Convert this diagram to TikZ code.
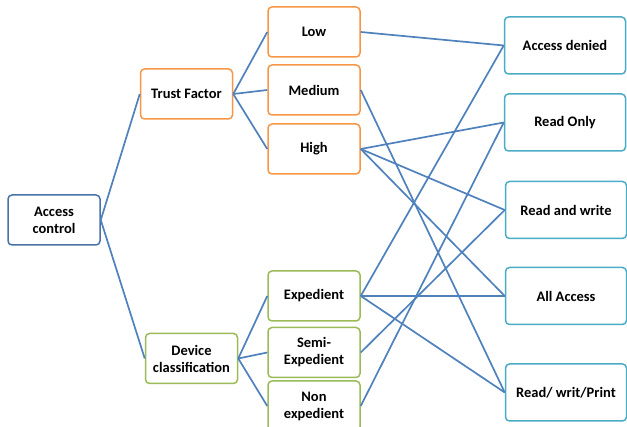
\documentclass[tikz,border=0pt]{standalone}
\usepackage{fontspec}
\setmainfont{Carlito}
\definecolor{linkblue}{HTML}{4F81BD}
\definecolor{rootblue}{HTML}{4A72A8}
\definecolor{factororange}{HTML}{F79646}
\definecolor{devgreen}{HTML}{9BBB59}
\definecolor{resteal}{HTML}{4BACC6}
\begin{document}
\begin{tikzpicture}[x=1pt,y=-1pt,
  box/.style={draw, line width=1.5pt, rounded corners=4pt, fill=white,
    align=center, inner sep=1pt, font=\fontsize{14.5}{17}\selectfont\bfseries},
  leftbox/.style={box, minimum width=92pt, minimum height=50pt},
  rightbox/.style={box, draw=resteal, minimum width=121pt, minimum height=57pt},
  link/.style={draw=linkblue, line width=1.7pt}]
\useasboundingbox (0,0) rectangle (627,427);
\begin{scope}
\clip (0,0) rectangle (627,427);

% root
\node[leftbox, draw=rootblue] (root) at (54,220) {Access\\control};

% first level
\node[leftbox, draw=factororange] (trust) at (186.5,94) {Trust Factor};
\node[leftbox, draw=devgreen] (device) at (191.5,358.5) {Device\\classification};

% trust levels
\node[leftbox, draw=factororange] (low) at (314,32) {Low};
\node[leftbox, draw=factororange] (medium) at (314,90) {Medium};
\node[leftbox, draw=factororange] (high) at (314,149) {High};

% device classes
\node[leftbox, draw=devgreen] (exp) at (314,296) {Expedient};
\node[leftbox, draw=devgreen] (semi) at (314,352.5) {Semi-\\Expedient};
\node[leftbox, draw=devgreen] (non) at (314,406) {Non\\expedient};

% access rights
\node[rightbox] (denied) at (565,45.5) {Access denied};
\node[rightbox] (ronly) at (565,122.5) {Read Only};
\node[rightbox] (rw) at (566,210) {Read and write};
\node[rightbox] (all) at (566,296) {All Access};
\node[rightbox] (rwp) at (566,392.5) {Read/ writ/Print};

% tree links
\draw[link] (root.east) -- (trust.west);
\draw[link] (root.east) -- (device.west);
\draw[link] (trust.east) -- (low.west);
\draw[link] (trust.east) -- (medium.west);
\draw[link] (trust.east) -- (high.west);
\draw[link] (device.east) -- (exp.west);
\draw[link] (device.east) -- (semi.west);
\draw[link] (device.east) -- (non.west);

% mapping to access rights
\draw[link] (low.east) -- (denied.west);
\draw[link] (medium.east) -- (rwp.west);
\draw[link] (high.east) -- (ronly.west);
\draw[link] (high.east) -- (rw.west);
\draw[link] (high.east) -- (all.west);
\draw[link] (exp.east) -- (denied.west);
\draw[link] (exp.east) -- (all.west);
\draw[link] (exp.east) -- (rwp.west);
\draw[link] (semi.east) -- (rw.west);
\draw[link] (non.east) -- (ronly.west);
\end{scope}
\end{tikzpicture}
\end{document}
